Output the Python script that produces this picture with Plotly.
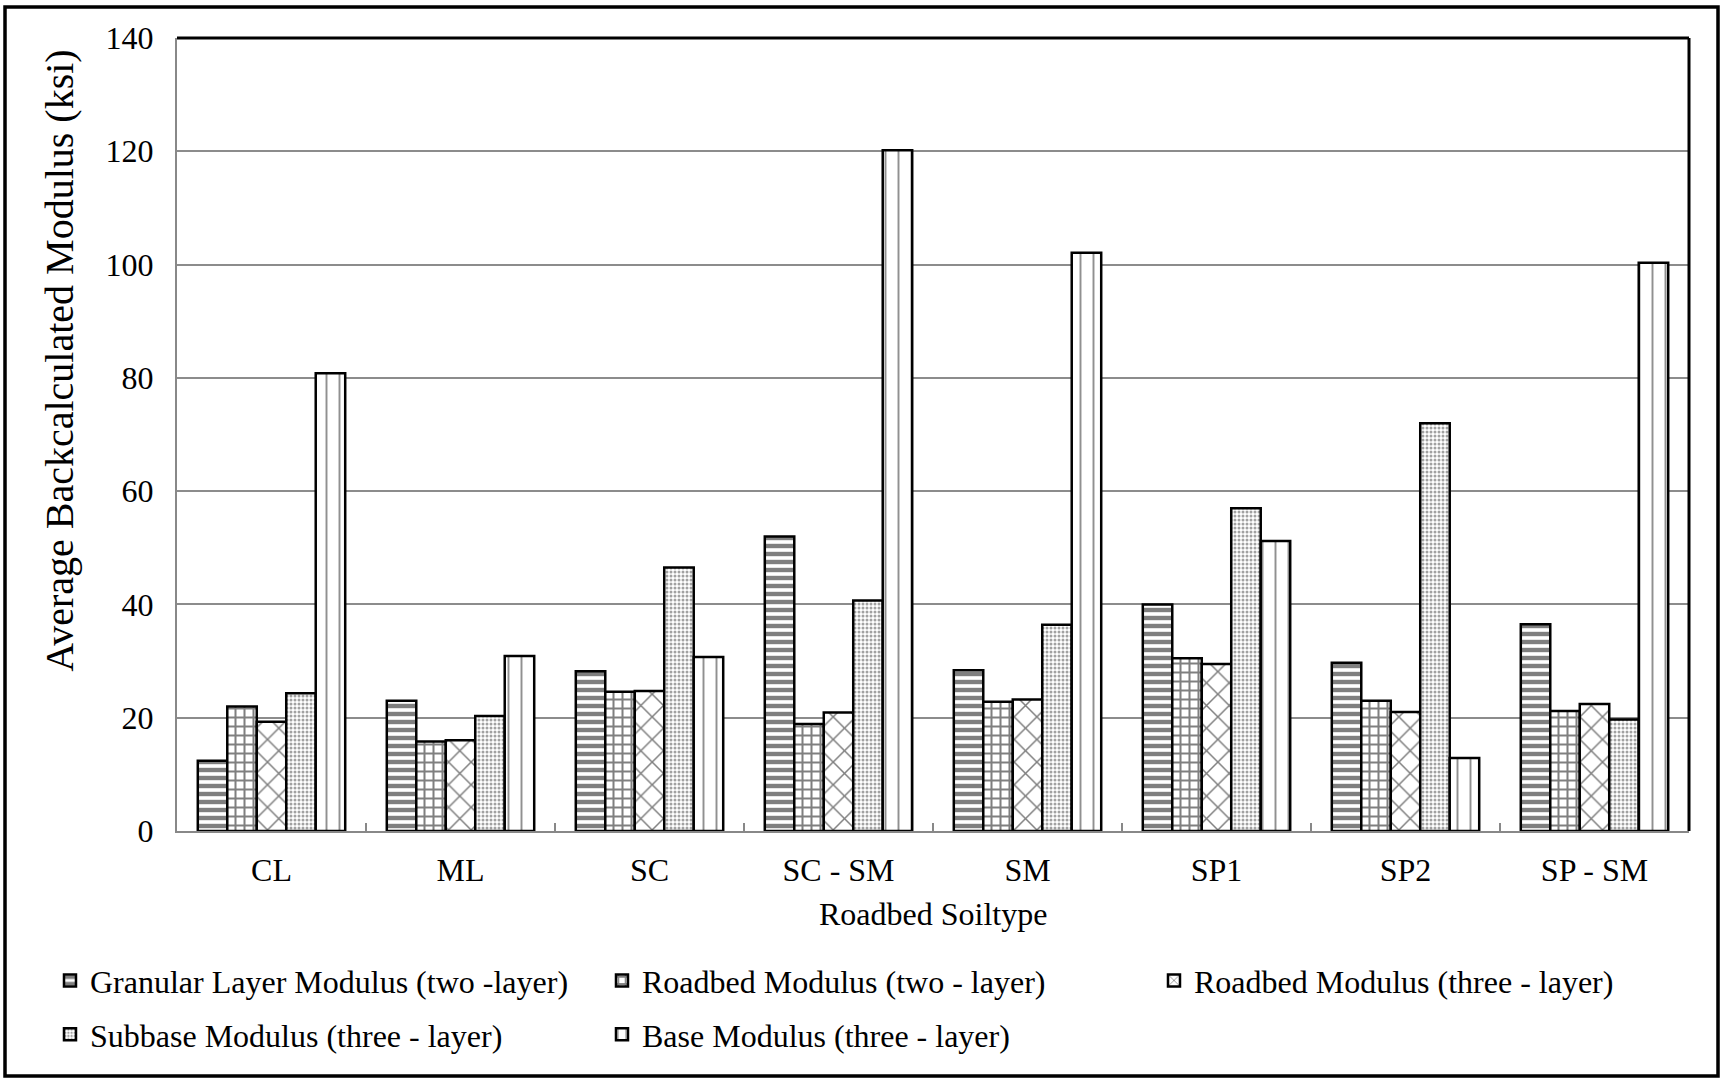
import plotly.graph_objects as go

categories = ["CL", "ML", "SC", "SC - SM", "SM", "SP1", "SP2", "SP - SM"]
granular_two = [12.4, 23.0, 28.2, 52.0, 28.4, 40.0, 29.7, 36.5]
roadbed_two = [22.0, 15.8, 24.6, 18.9, 22.8, 30.5, 23.0, 21.2]
roadbed_three = [19.3, 16.0, 24.7, 20.9, 23.2, 29.5, 21.0, 22.4]
subbase_three = [24.3, 20.3, 46.5, 40.7, 36.4, 57.0, 72.0, 19.7]
base_three = [80.8, 30.9, 30.7, 120.2, 102.1, 51.2, 12.9, 100.3]

series_names = [
    "Granular Layer Modulus (two -layer)",
    "Roadbed Modulus (two - layer)",
    "Roadbed Modulus (three - layer)",
    "Subbase Modulus (three - layer)",
    "Base Modulus (three - layer)",
]
y_ticks = [0, 20, 40, 60, 80, 100, 120, 140]

series_values = [granular_two, roadbed_two, roadbed_three, subbase_three, base_three]
patterns = [
    dict(shape="-", size=8, solidity=0.55, fgcolor="black", bgcolor="white", fillmode="overlay"),
    dict(shape="+", size=9, solidity=0.4, fgcolor="black", bgcolor="white", fillmode="overlay"),
    dict(shape="x", size=16, solidity=0.18, fgcolor="black", bgcolor="white", fillmode="overlay"),
    dict(shape=".", size=4, solidity=0.45, fgcolor="#444444", bgcolor="white", fillmode="overlay"),
    dict(shape="|", size=13, solidity=0.15, fgcolor="#222222", bgcolor="white", fillmode="overlay"),
]
legend_ids = ["legend", "legend", "legend", "legend2", "legend2"]

FONT = "Liberation Serif"

fig = go.Figure()
for name, vals, pat, lg in zip(series_names, series_values, patterns, legend_ids):
    fig.add_trace(go.Bar(
        x=categories, y=vals, name=name, legend=lg,
        marker=dict(color="white", line=dict(color="black", width=2.5), pattern=pat),
    ))

legend_common = dict(
    orientation="h", xanchor="left", yanchor="top",
    entrywidth=507, entrywidthmode="pixels",
    font=dict(family=FONT, size=32, color="black"),
    itemwidth=30, bgcolor="rgba(0,0,0,0)",
)

fig.update_layout(
    width=1721, height=1079,
    paper_bgcolor="white", plot_bgcolor="white",
    margin=dict(l=177, r=32, t=38, b=248, autoexpand=False),
    barmode="group", bargap=0.22, bargroupgap=0,
    font=dict(family=FONT, size=32, color="black"),
    showlegend=True,
    legend=dict(x=-0.084, y=-0.154, **legend_common),
    legend2=dict(x=-0.084, y=-0.222, **legend_common),
    xaxis=dict(
        showline=True, linecolor="#888888", linewidth=2,
        ticks="inside", tickson="boundaries", ticklen=8, tickcolor="#888888", tickwidth=2,
        showgrid=False, ticklabelstandoff=10,
        tickfont=dict(family=FONT, size=32),
    ),
    yaxis=dict(
        range=[0, 140], tickvals=y_ticks, ticktext=[str(v) for v in y_ticks],
        showline=True, linecolor="#888888", linewidth=2,
        showgrid=True, gridcolor="#8c8c8c", gridwidth=2,
        ticks="", ticklabelstandoff=15, zeroline=False,
        tickfont=dict(family=FONT, size=32),
    ),
    annotations=[
        dict(text="Average Backcalculated Modulus (ksi)", xref="paper", yref="paper",
             x=-0.0774, y=0.593, xanchor="center", yanchor="middle", textangle=-90,
             showarrow=False, font=dict(family=FONT, size=40)),
        dict(text="Roadbed Soiltype", xref="paper", yref="paper",
             x=0.5, y=(831 - 914) / 793, xanchor="center", yanchor="middle",
             showarrow=False, font=dict(family=FONT, size=32)),
    ],
    shapes=[
        dict(type="rect", xref="paper", yref="paper",
             x0=(5 - 177) / 1512, x1=(1718 - 177) / 1512,
             y0=(831 - 1076) / 793, y1=(831 - 7) / 793,
             line=dict(color="black", width=3.5), fillcolor="rgba(0,0,0,0)", layer="above"),
        dict(type="line", xref="paper", yref="paper", x0=0, x1=1, y0=1, y1=1,
             line=dict(color="black", width=3), layer="above"),
        dict(type="line", xref="paper", yref="paper", x0=1, x1=1, y0=0, y1=1,
             line=dict(color="black", width=3), layer="above"),
    ],
)

fig.write_html("out.html")
